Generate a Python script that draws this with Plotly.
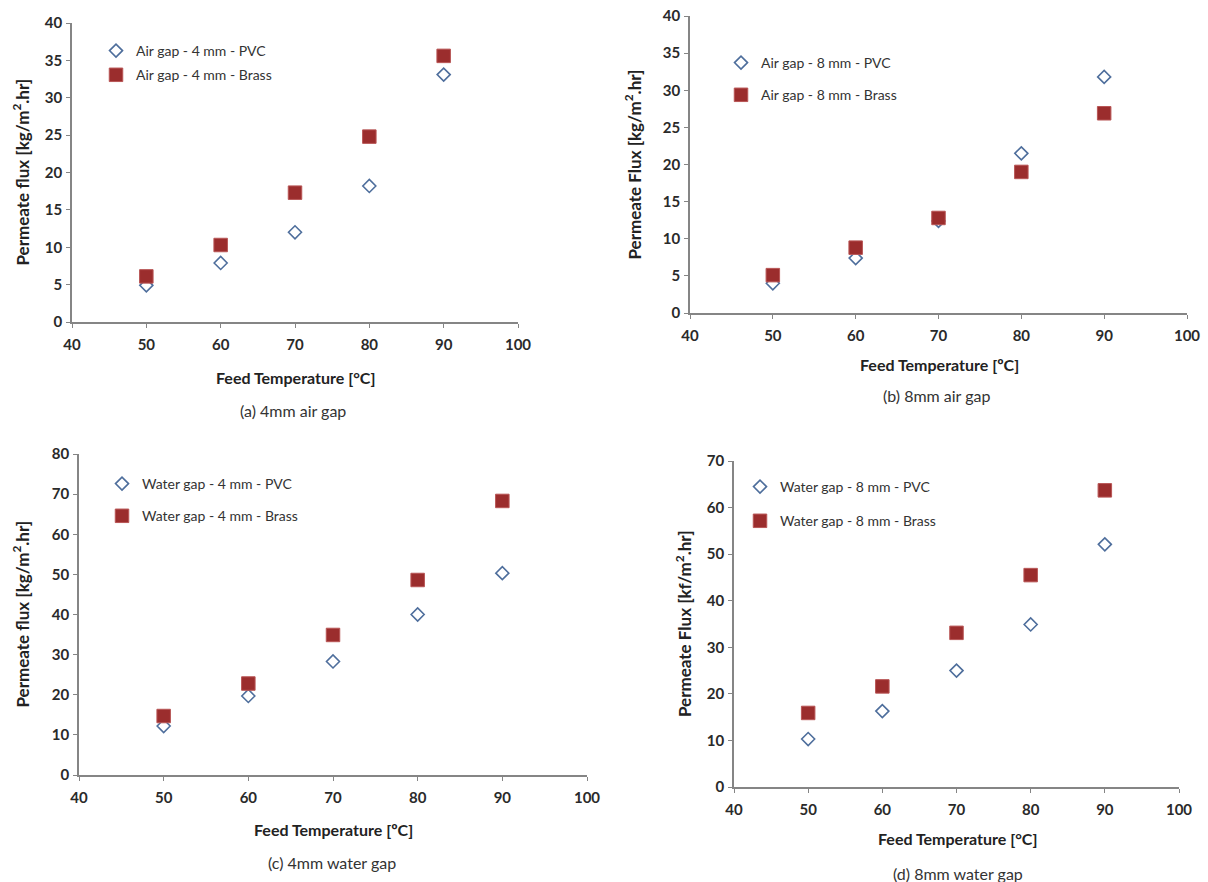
import plotly.graph_objects as go

temps = [50, 60, 70, 80, 90]

a_pvc = [4.9, 7.9, 12.0, 18.2, 33.1]
a_brass = [6.1, 10.3, 17.3, 24.8, 35.6]

b_pvc = [4.0, 7.4, 12.4, 21.5, 31.8]
b_brass = [5.1, 8.8, 12.8, 19.0, 26.9]

c_pvc = [12.2, 19.7, 28.3, 40.0, 50.3]
c_brass = [14.7, 22.8, 34.9, 48.6, 68.3]

d_pvc = [10.3, 16.3, 25.0, 34.9, 52.1]
d_brass = [15.9, 21.6, 33.1, 45.5, 63.7]

names = [
    ("Air gap - 4 mm - PVC", "Air gap - 4 mm - Brass"),
    ("Air gap - 8 mm - PVC", "Air gap - 8 mm - Brass"),
    ("Water gap - 4 mm - PVC", "Water gap - 4 mm - Brass"),
    ("Water gap - 8 mm - PVC", "Water gap - 8 mm - Brass"),
]
ytitles = [
    "Permeate flux [kg/m<sup>2</sup>.hr]",
    "Permeate Flux [kg/m<sup>2</sup>.hr]",
    "Permeate flux [kg/m<sup>2</sup>.hr]",
    "Permeate Flux [kf/m<sup>2</sup>.hr]",
]
xtitles = ["Feed Temperature [°C]", "Feed Temperature [ºC]",
           "Feed Temperature [ºC]", "Feed Temperature [°C]"]
captions = ["(a) 4mm air gap", "(b) 8mm air gap", "(c) 4mm water gap", "(d) 8mm water gap"]
yranges = [(0, 40, 5), (0, 40, 5), (0, 80, 10), (0, 70, 10)]

W, H = 1208, 882
# layout in pixels
boxes = [(72, 518, 23, 322), (690, 1187, 16, 313), (79, 587, 454, 775), (734, 1179, 461, 787)]
legpos = [(96, 35), (721, 47), (102, 468), (740, 471)]
leggap = [3, 11, 11, 13]
xtitle_pos = [(295, 377), (939, 364), (333, 829), (957, 838)]
ytitle_x = [21, 633, 21, 683]
cappos = [(293, 410), (936, 395), (332, 862), (958, 873)]

FONT = "Lato, 'Open Sans', sans-serif"
PVC_COL = "#4E6E9C"
BRASS_COL = "#9B2D2D"

series = [(a_pvc, a_brass), (b_pvc, b_brass), (c_pvc, c_brass), (d_pvc, d_brass)]

fig = go.Figure()
layout = dict(width=W, height=H, margin=dict(l=0, r=0, t=0, b=0),
              paper_bgcolor="white", plot_bgcolor="white", showlegend=True,
              font=dict(family=FONT, color="#333333"))
annotations = []
for i, ((pvc, brass), (x0, x1, yt, yb)) in enumerate(zip(series, boxes)):
    k = "" if i == 0 else str(i + 1)
    leg = "legend" + k
    fig.add_trace(go.Scatter(x=temps, y=pvc, mode="markers", name=names[i][0],
                             xaxis="x" + k, yaxis="y" + k, legend=leg, legendgroup="p" + k,
                             marker=dict(symbol="diamond-open", size=10, color=PVC_COL,
                                         line=dict(width=1.6, color=PVC_COL))))
    fig.add_trace(go.Scatter(x=temps, y=brass, mode="markers", name=names[i][1],
                             xaxis="x" + k, yaxis="y" + k, legend=leg, legendgroup="b" + k,
                             marker=dict(symbol="square", size=13.5, color=BRASS_COL,
                                         line=dict(width=1, color="#B85555"))))
    lo, hi, dt = yranges[i]
    common = dict(showgrid=False, zeroline=False, showline=True, linecolor="#858585",
                  linewidth=1.6, ticks="outside", ticklen=4, tickwidth=1.2,
                  tickcolor="#858585", automargin=False, fixedrange=True,
                  tickfont=dict(family=FONT, size=15, color="#2a2a2a", weight="bold"))
    layout["xaxis" + k] = dict(domain=[x0 / W, x1 / W], range=[40, 100], tick0=40, dtick=10,
                               anchor="y" + k, ticklabelstandoff=4, **common)
    layout["yaxis" + k] = dict(domain=[1 - yb / H, 1 - yt / H], range=[lo, hi], tick0=lo,
                               dtick=dt, anchor="x" + k, ticklabelstandoff=1, **common)
    lx, ly = legpos[i]
    layout[leg] = dict(x=lx / W, y=1 - ly / H, xanchor="left", yanchor="top",
                       bgcolor="rgba(0,0,0,0)", tracegroupgap=leggap[i], itemwidth=30,
                       font=dict(family=FONT, size=14, color="#333333"))
    tx, ty = xtitle_pos[i]
    annotations.append(dict(x=tx / W, y=1 - ty / H, xref="paper", yref="paper",
                            text=xtitles[i], showarrow=False, xanchor="center", yanchor="middle",
                            font=dict(family=FONT, size=16, color="#222222", weight="bold")))
    annotations.append(dict(x=ytitle_x[i] / W, y=1 - (yt + yb) / 2 / H, xref="paper",
                            yref="paper", text=ytitles[i], showarrow=False, textangle=-90,
                            xanchor="center", yanchor="middle",
                            font=dict(family=FONT, size=17, color="#222222", weight="bold")))
    cx, cy = cappos[i]
    annotations.append(dict(x=cx / W, y=1 - cy / H, xref="paper", yref="paper",
                            text=captions[i], showarrow=False, xanchor="center", yanchor="middle",
                            font=dict(family=FONT, size=16, color="#333333")))
layout["annotations"] = annotations
fig.update_layout(**layout)
fig.write_html("out.html", config={"displayModeBar": False},
               post_script="document.body.style.margin='0';document.body.style.overflow='hidden';")
